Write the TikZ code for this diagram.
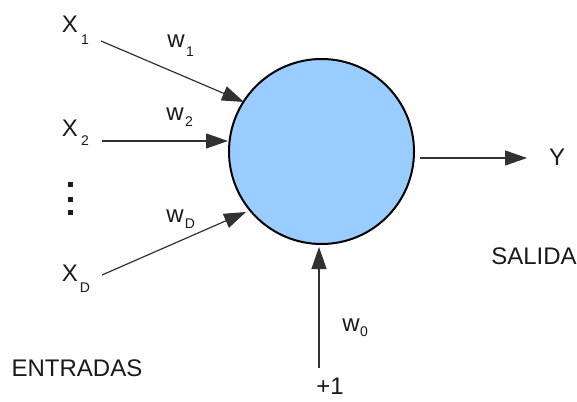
\documentclass[tikz,border=0pt]{standalone}
\usepackage{fontspec}
\setmainfont{Liberation Sans}
\usetikzlibrary{arrows.meta}
\definecolor{neuron}{HTML}{99CCFF}
\definecolor{ink}{HTML}{1A1A1A}
\tikzset{
  big/.style={inner sep=0pt, text=ink, font=\fontsize{24}{26}\selectfont},
  sub/.style={inner sep=0pt, text=ink, font=\fontsize{14}{16}\selectfont},
  conn/.style={draw=ink!90, line width=1.2pt, -{Triangle[length=22pt,width=15pt]}},
}
\begin{document}
\begin{tikzpicture}[x=1pt,y=-1pt]
\useasboundingbox (0,0) rectangle (577,401);
\node[circle, draw=black, line width=2pt, fill=neuron, minimum size=185pt, inner sep=0pt] (n) at (321.5,151.5) {};
% inputs
\node[big] (x1) at (70,24) {X};
\node[sub] (x1s) at (85,40) {1};
\node[big] (x2) at (70,128) {X};
\node[sub] (x2s) at (85,141) {2};
\node[big] (xd) at (70,273) {X};
\node[sub] (xds) at (85,288) {D};
\fill[ink] (67.5,182) rectangle ++(5,5);
\fill[ink] (67.5,196.5) rectangle ++(5,5);
\fill[ink] (67.5,210) rectangle ++(5,5);
% weights
\node[big] (w1) at (176,41) {w};
\node[sub] (w1s) at (190,52) {1};
\node[big] (w2) at (175,114) {w};
\node[sub] (w2s) at (189,122) {2};
\node[big] (wd) at (175,216) {w};
\node[sub] (wds) at (190,224) {D};
\node[big] (w0) at (351,325) {w};
\node[sub] (w0s) at (364,332) {0};
% other text
\node[big] (y) at (557,157) {Y};
\node[big] (sal) at (534,256) {SALIDA};
\node[big] (ent) at (77,368) {ENTRADAS};
\node[big] (p1) at (330,386) {+1};
% connectors
\coordinate (a1) at (101,41);
\coordinate (a2) at (102,141);
\coordinate (ad) at (102,275);
\coordinate (ab) at (319,368);
\coordinate (ao) at (420,158);
\coordinate (t1) at (244,102);
\coordinate (t2) at (228,141);
\coordinate (td) at (246,212);
\coordinate (tb) at (319,247);
\coordinate (to) at (527,158);
\draw[conn] (a1) -- (t1);
\draw[conn] (a2) -- (t2);
\draw[conn] (ad) -- (td);
\draw[conn] (ab) -- (tb);
\draw[conn] (ao) -- (to);
\end{tikzpicture}
\end{document}
